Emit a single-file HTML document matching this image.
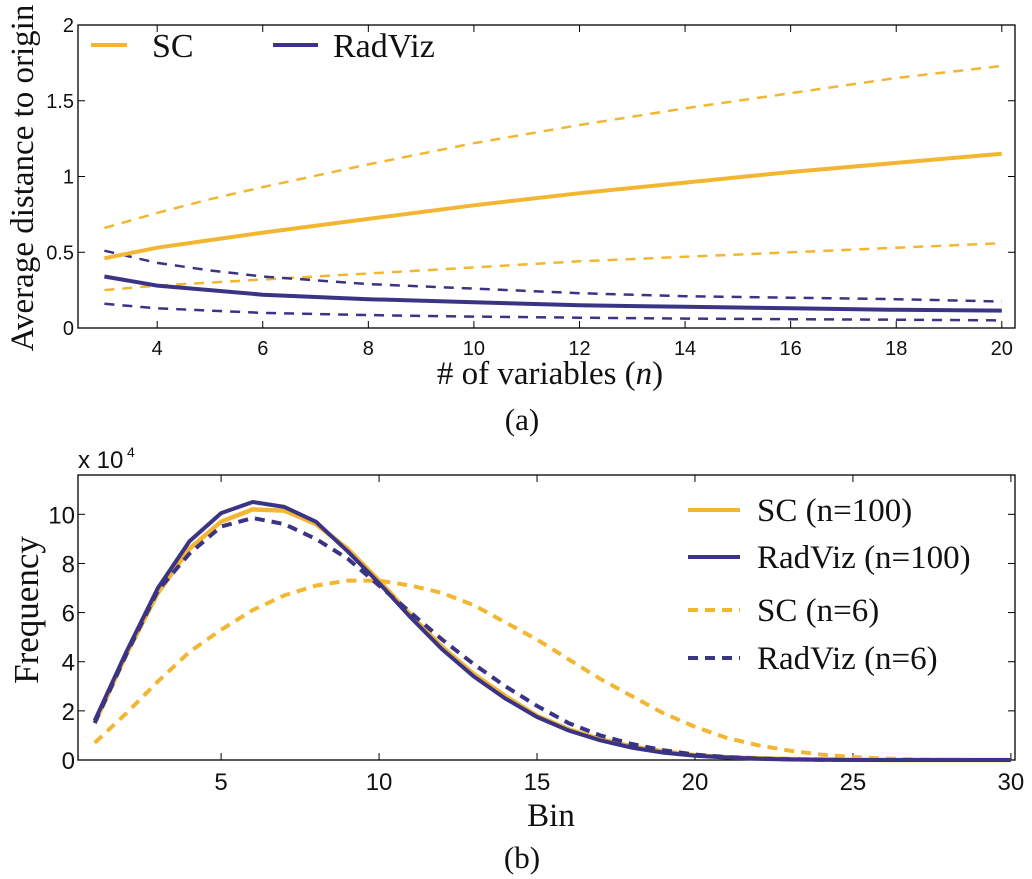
<!DOCTYPE html>
<html><head><meta charset="utf-8">
<style>
html,body{margin:0;padding:0;background:#fff;}
svg{display:block;}
.tk{font-family:"Liberation Sans",sans-serif;fill:#111;}
.sr{font-family:"Liberation Serif",serif;fill:#111;}
</style></head>
<body>
<svg id="fig" width="1032" height="879" viewBox="0 0 1032 879">
<g id="pa"></g>
<g id="pb"></g>
</svg>
<script>
// Chart (a) data
const nVals = [3,4,5,6,8,10,12,14,16,18,20];
const scMean = [0.46,0.53,0.58,0.63,0.72,0.81,0.89,0.96,1.03,1.09,1.15];
const scUpper = [0.66,0.76,0.85,0.93,1.08,1.22,1.34,1.45,1.55,1.65,1.73];
const scLower = [0.25,0.28,0.30,0.32,0.36,0.40,0.44,0.47,0.50,0.53,0.56];
const rvMean = [0.34,0.28,0.25,0.22,0.19,0.17,0.15,0.14,0.13,0.12,0.115];
const rvUpper = [0.51,0.43,0.38,0.34,0.29,0.26,0.23,0.21,0.20,0.19,0.175];
const rvLower = [0.16,0.13,0.115,0.10,0.085,0.075,0.068,0.062,0.058,0.055,0.05];
const aXTicks = [4,6,8,10,12,14,16,18,20];
const aYTicks = [0,0.5,1,1.5,2];
const aYLabels = ["0","0.5","1","1.5","2"];
// Chart (b) data
const bins = [1,2,3,4,5,6,7,8,9,10,11,12,13,14,15,16,17,18,19,20,21,22,23,24,25,26,27,28,29,30];
const sc100 = [1.5,4.3,6.8,8.6,9.7,10.2,10.15,9.6,8.6,7.3,5.9,4.6,3.5,2.6,1.8,1.25,0.85,0.55,0.35,0.2,0.12,0.07,0.04,0.02,0.01,0,0,0,0,0];
const rv100 = [1.6,4.4,7.0,8.9,10.05,10.5,10.3,9.7,8.5,7.2,5.8,4.5,3.4,2.5,1.75,1.2,0.8,0.5,0.3,0.17,0.1,0.05,0.02,0.01,0,0,0,0,0,0];
const sc6 = [0.7,1.9,3.2,4.4,5.3,6.1,6.7,7.1,7.3,7.3,7.1,6.8,6.3,5.6,4.9,4.1,3.3,2.6,1.9,1.35,0.9,0.6,0.38,0.22,0.12,0.06,0.03,0.01,0,0];
const rv6 = [1.5,4.3,6.9,8.4,9.5,9.85,9.6,9.0,8.2,7.1,6.0,4.9,3.9,3.0,2.2,1.5,1.0,0.65,0.4,0.22,0.12,0.06,0.03,0.01,0,0,0,0,0,0];
const bXTicks = [5,10,15,20,25,30];
const bYTicks = [0,2,4,6,8,10];

const NS="http://www.w3.org/2000/svg";
const YEL="#f3b632", NAV="#3b3484";
function mk(parent,tag,attrs,text){const e=document.createElementNS(NS,tag);for(const k in attrs)e.setAttribute(k,attrs[k]);if(text!==undefined)e.textContent=text;parent.appendChild(e);return e;}

// ----- Chart A -----
const A={L:78,R:1015,T:25,B:328,x0:2.5,x1:20.25,y0:0,y1:2};
const ax=v=>A.L+(v-A.x0)/(A.x1-A.x0)*(A.R-A.L);
const ay=v=>A.B-(v-A.y0)/(A.y1-A.y0)*(A.B-A.T);
const pa=document.getElementById('pa');
let e=mk(pa,'rect',{x:A.L,y:A.T,width:A.R-A.L,height:A.B-A.T,fill:'none',stroke:'#000','stroke-width':1.3});


aXTicks.forEach(t=>{const x=ax(t);
 mk(pa,'line',{x1:x,y1:A.B,x2:x,y2:A.B-7,stroke:'#000'});mk(pa,'line',{x1:x,y1:A.T,x2:x,y2:A.T+7,stroke:'#000'});
 const l=mk(pa,'text',{x:x,y:A.B+27,'text-anchor':'middle',class:'tk',style:'font-size:20px'},String(t));
 
 });
aYTicks.forEach((t,i)=>{const y=ay(t);
 mk(pa,'line',{x1:A.L,y1:y,x2:A.L+7,y2:y,stroke:'#000'});mk(pa,'line',{x1:A.R,y1:y,x2:A.R-7,y2:y,stroke:'#000'});
 const l=mk(pa,'text',{x:A.L-4,y:y+7,'text-anchor':'end',class:'tk',style:'font-size:20px'},aYLabels[i]);
 
 });
function lineA(vals,col,dash,w,name){const d=vals.map((v,i)=>(i?'L':'M')+ax(nVals[i]).toFixed(1)+' '+ay(v).toFixed(1)).join(' ');
 const p=mk(pa,'path',{d:d,fill:'none',stroke:col,'stroke-width':w,'stroke-dasharray':dash||'none'});
 
 }
lineA(scUpper,YEL,'10 8',2.5,'sc-upper-line');
lineA(scLower,YEL,'10 8',2.5,'sc-lower-line');
lineA(rvUpper,NAV,'10 8',2.5,'radviz-upper-line');
lineA(rvLower,NAV,'10 8',2.5,'radviz-lower-line');
lineA(scMean,YEL,null,4,'sc-mean-line');
lineA(rvMean,NAV,null,4,'radviz-mean-line');
e=mk(pa,'line',{x1:91,y1:45,x2:127,y2:45,stroke:YEL,'stroke-width':4});


e=mk(pa,'text',{x:152,y:57,class:'sr',style:'font-size:34px'},'SC');


e=mk(pa,'line',{x1:273,y1:45,x2:318,y2:45,stroke:NAV,'stroke-width':4});


e=mk(pa,'text',{x:333,y:57,class:'sr',style:'font-size:34px'},'RadViz');


e=mk(pa,'text',{x:550,y:384,'text-anchor':'middle',class:'sr',style:'font-size:33px'},'');
e.innerHTML='# of variables (<tspan font-style="italic">n</tspan>)';


e=mk(pa,'text',{x:0,y:0,'text-anchor':'middle',class:'sr',style:'font-size:33px',transform:'translate(33,178) rotate(-90)'},'Average distance to origin');


e=mk(pa,'text',{x:522,y:430,'text-anchor':'middle',class:'sr',style:'font-size:31px'},'(a)');



// ----- Chart B -----
const B={L:78,R:1015,T:475,B:760,x0:0.47,x1:30.13,y0:0,y1:11.6};
const bx=v=>B.L+(v-B.x0)/(B.x1-B.x0)*(B.R-B.L);
const by=v=>B.B-(v-B.y0)/(B.y1-B.y0)*(B.B-B.T);
const pb=document.getElementById('pb');
e=mk(pb,'rect',{x:B.L,y:B.T,width:B.R-B.L,height:B.B-B.T,fill:'none',stroke:'#000','stroke-width':1.3});


bXTicks.forEach(t=>{const x=bx(t);
 mk(pb,'line',{x1:x,y1:B.B,x2:x,y2:B.B-7,stroke:'#000'});mk(pb,'line',{x1:x,y1:B.T,x2:x,y2:B.T+7,stroke:'#000'});
 const l=mk(pb,'text',{x:x,y:B.B+30,'text-anchor':'middle',class:'tk',style:'font-size:24px'},String(t));
 
 });
bYTicks.forEach(t=>{const y=by(t);
 mk(pb,'line',{x1:B.L,y1:y,x2:B.L+7,y2:y,stroke:'#000'});mk(pb,'line',{x1:B.R,y1:y,x2:B.R-7,y2:y,stroke:'#000'});
 const l=mk(pb,'text',{x:B.L-3,y:y+9,'text-anchor':'end',class:'tk',style:'font-size:24px'},String(t));
 
 });
e=mk(pb,'text',{x:78,y:468,class:'tk',style:'font-size:24px'},'x 10');


mk(pb,'text',{x:127,y:457,class:'tk',style:'font-size:14px'},'4');
function lineB(vals,col,dash,w,name){const d=vals.map((v,i)=>(i?'L':'M')+bx(bins[i]).toFixed(1)+' '+by(v).toFixed(1)).join(' ');
 const p=mk(pb,'path',{d:d,fill:'none',stroke:col,'stroke-width':w,'stroke-dasharray':dash||'none','stroke-linejoin':'round'});
 
 }
lineB(sc6,YEL,'10 7',4,'sc-n6-line');
lineB(sc100,YEL,null,4.5,'sc-n100-line');
lineB(rv100,NAV,null,4,'radviz-n100-line');
lineB(rv6,NAV,'10 7',4,'radviz-n6-line');
const legB=[["SC (n=100)",YEL,null,'legend-sc-n100'],["RadViz (n=100)",NAV,null,'legend-radviz-n100'],["SC (n=6)",YEL,'10 7','legend-sc-n6'],["RadViz (n=6)",NAV,'10 7','legend-radviz-n6']];
const legY=[510,557,610,658];
legB.forEach((L,i)=>{
 const s=mk(pb,'line',{x1:688,y1:legY[i],x2:740,y2:legY[i],stroke:L[1],'stroke-width':4,'stroke-dasharray':L[2]||'none'});
 
 
 const t=mk(pb,'text',{x:757,y:legY[i]+11,class:'sr',style:'font-size:33px'},L[0]);
 
 });
e=mk(pb,'text',{x:551,y:826,'text-anchor':'middle',class:'sr',style:'font-size:33px'},'Bin');


e=mk(pb,'text',{x:0,y:0,'text-anchor':'middle',class:'sr',style:'font-size:35px',transform:'translate(38,610) rotate(-90)'},'Frequency');


e=mk(pb,'text',{x:522,y:868,'text-anchor':'middle',class:'sr',style:'font-size:31px'},'(b)');


</script>
</body></html>
